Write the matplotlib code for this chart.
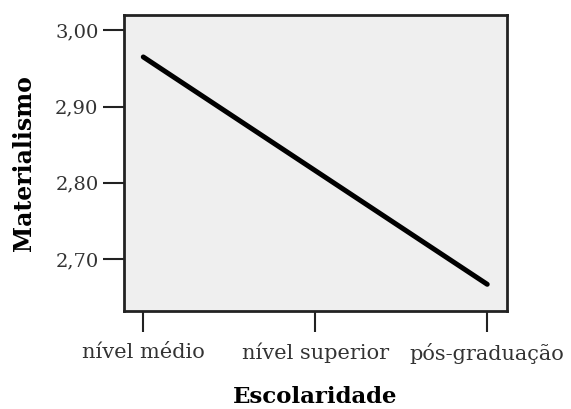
import matplotlib
matplotlib.use("Agg")
import matplotlib.pyplot as plt

# Data
categories = ["nível médio", "nível superior", "pós-graduação"]
materialismo = [2.965, 2.816, 2.667]
y_ticks = [2.70, 2.80, 2.90, 3.00]

plt.rcParams["font.family"] = ["DejaVu Serif"]

fig = plt.figure(figsize=(5.71, 4.09), dpi=100)
ax = fig.add_axes([123.5 / 571, 1 - 311 / 409, (507 - 123.5) / 571, (311 - 15) / 409])
ax.set_facecolor("#efefef")

x = range(len(categories))
ax.plot(x, materialismo, color="black", linewidth=3.6, solid_capstyle="round")

ax.set_xlim(-0.115, 2.115)
ax.set_ylim(2.632, 3.020)
ax.set_xticks(list(x))
ax.set_xticklabels(categories)
ax.set_yticks(y_ticks)
ax.set_yticklabels([f"{v:.2f}".replace(".", ",") for v in y_ticks])

ax.tick_params(axis="both", length=15, width=1.5, color="#222222",
               labelcolor="#333333")
ax.tick_params(axis="y", pad=3, labelsize=14)
ax.tick_params(axis="x", pad=8, labelsize=15)
for s in ax.spines.values():
    s.set_linewidth(2)
    s.set_color("#222222")

ax.set_xlabel("Escolaridade", fontsize=16.5, fontweight="bold", labelpad=16)
ax.set_ylabel("Materialismo", fontsize=17, fontweight="bold", labelpad=14)

fig.savefig("out.png", dpi=100)
